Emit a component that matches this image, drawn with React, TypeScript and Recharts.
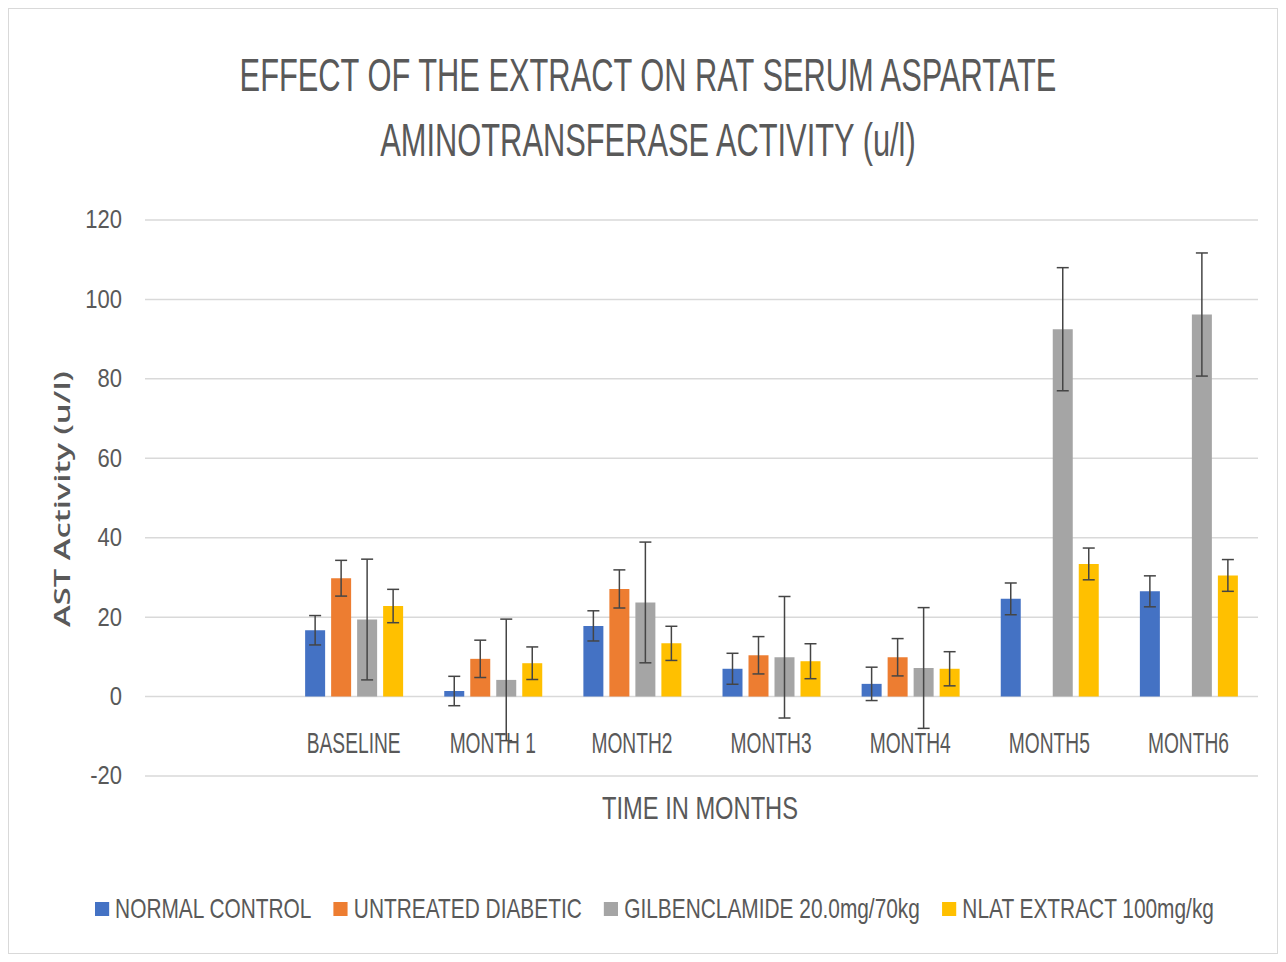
import { Bar, BarChart, CartesianGrid, ErrorBar, XAxis, YAxis } from 'recharts'

const categories = ['', 'BASELINE', 'MONTH 1', 'MONTH2', 'MONTH3', 'MONTH4', 'MONTH5', 'MONTH6']

const normalControl = [null, 16.7, 1.4, 17.8, 7.0, 3.2, 24.6, 26.5]
const normalControlErr = [null, 3.7, 3.7, 3.8, 3.9, 4.2, 4.0, 3.9]
const untreatedDiabetic = [null, 29.8, 9.5, 27.1, 10.4, 9.9, null, null]
const untreatedDiabeticErr = [null, 4.5, 4.7, 4.8, 4.7, 4.7, null, null]
const gilbenclamide = [null, 19.4, 4.2, 23.7, 9.9, 7.2, 92.5, 96.2]
const gilbenclamideErr = [null, 15.2, 15.3, 15.2, 15.3, 15.2, 15.5, 15.5]
const nlatExtract = [null, 22.8, 8.4, 13.4, 8.9, 7.0, 33.4, 30.5]
const nlatExtractErr = [null, 4.2, 4.1, 4.3, 4.4, 4.3, 4.0, 4.0]

const yTicks = [-20, 0, 20, 40, 60, 80, 100, 120]

const series = [
  { key: 'nc', name: 'NORMAL CONTROL', color: '#4472C4' },
  { key: 'ud', name: 'UNTREATED DIABETIC', color: '#ED7D31' },
  { key: 'gil', name: 'GILBENCLAMIDE 20.0mg/70kg', color: '#A5A5A5' },
  { key: 'nlat', name: 'NLAT EXTRACT 100mg/kg', color: '#FFC000' },
]

const data = categories.map((cat, i) => ({
  cat,
  nc: normalControl[i],
  ncErr: normalControlErr[i],
  ud: untreatedDiabetic[i],
  udErr: untreatedDiabeticErr[i],
  gil: gilbenclamide[i],
  gilErr: gilbenclamideErr[i],
  nlat: nlatExtract[i],
  nlatErr: nlatExtractErr[i],
}))

const FONT = "'Liberation Sans', Arial, sans-serif"
const TEXT = '#595959'

// source text is narrow and tall, so squeeze it horizontally
function CategoryTick({ x, y, payload }: any) {
  return (
    <text
      transform={`translate(${x},${y - 34}) scale(0.64,1)`}
      textAnchor="middle"
      dominantBaseline="central"
      fill={TEXT}
      fontSize={30}
      fontFamily={FONT}
    >
      {payload.value}
    </text>
  )
}

function ValueTick({ x, y, payload }: any) {
  return (
    <text
      transform={`translate(${x},${y}) scale(0.88,1)`}
      textAnchor="end"
      dominantBaseline="central"
      fill={TEXT}
      fontSize={25}
      fontFamily={FONT}
    >
      {payload.value}
    </text>
  )
}

export default function App() {
  return (
    <div
      style={{
        position: 'relative',
        width: 1268,
        height: 944,
        border: '1px solid #d9d9d9',
        background: '#fff',
        fontFamily: FONT,
        color: TEXT,
      }}
    >
      <div
        style={{
          position: 'absolute',
          left: 0,
          top: 34,
          width: 1278,
          textAlign: 'center',
          fontSize: 46,
          lineHeight: '65px',
          transform: 'scaleX(0.67)',
          transformOrigin: '639px 0',
          whiteSpace: 'nowrap',
        }}
      >
        <div>EFFECT OF THE EXTRACT ON RAT SERUM ASPARTATE</div>
        <div>AMINOTRANSFERASE ACTIVITY (u/l)</div>
      </div>

      <BarChart
        width={1268}
        height={944}
        data={data}
        margin={{ top: 211, right: 19, bottom: 147, left: 0 }}
        barSize={20}
        barGap={6}
      >
        <CartesianGrid vertical={false} stroke="#d9d9d9" strokeWidth={1.5} />
        <XAxis
          dataKey="cat"
          height={30}
          axisLine={false}
          tickLine={false}
          tickSize={0}
          tickMargin={0}
          interval={0}
          tick={<CategoryTick />}
        />
        <YAxis
          width={136}
          domain={[-20, 120]}
          ticks={yTicks}
          axisLine={false}
          tickLine={false}
          tickSize={0}
          tickMargin={23}
          tick={<ValueTick />}
        />
        {series.map((s) => (
          <Bar key={s.key} dataKey={s.key} name={s.name} fill={s.color} isAnimationActive={false}>
            <ErrorBar
              dataKey={s.key + 'Err'}
              width={6}
              stroke="#454545"
              strokeWidth={1.5}
              direction="y"
              isAnimationActive={false}
            />
          </Bar>
        ))}
      </BarChart>

      <div
        style={{
          position: 'absolute',
          left: 53,
          top: 490,
          transform: 'translate(-50%, -50%) rotate(-90deg) scaleX(1.56)',
          whiteSpace: 'nowrap',
          fontFamily: "'Open Sans', sans-serif",
          fontWeight: 600,
          fontSize: 21,
        }}
      >
        AST Activity (u/l)
      </div>

      <div
        style={{
          position: 'absolute',
          left: 691,
          top: 799,
          transform: 'translate(-50%, -50%) scaleX(0.74)',
          whiteSpace: 'nowrap',
          fontSize: 32,
        }}
      >
        TIME IN MONTHS
      </div>

      <div
        style={{
          position: 'absolute',
          left: 86,
          top: 884,
          display: 'flex',
          alignItems: 'center',
          fontSize: 28,
          whiteSpace: 'nowrap',
          transform: 'scaleX(0.745)',
          transformOrigin: '0 0',
        }}
      >
        {series.map((s) => (
          <div key={s.key} style={{ display: 'flex', alignItems: 'center', marginRight: 30 }}>
            <span style={{ width: 19, height: 14, background: s.color, marginRight: 8 }} />
            <span>{s.name}</span>
          </div>
        ))}
      </div>
    </div>
  )
}
